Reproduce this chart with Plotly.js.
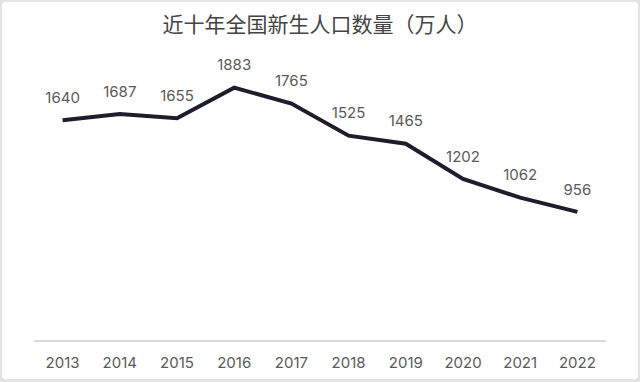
<!DOCTYPE html>
<html>
<head>
<meta charset="utf-8">
<script src="https://cdn.plot.ly/plotly-3.0.1.min.js"></script>
<style>
  html, body { margin: 0; padding: 0; background: #e4e4e4; width: 640px; height: 382px; overflow: hidden; }
  #frame { position: absolute; left: 2px; top: 2px; width: 636px; height: 377px; background: #fff; border-radius: 4px; overflow: hidden; }
  #chart { width: 636px; height: 377px; }
</style>
</head>
<body>
<div id="frame"><div id="chart"></div></div>
<script>
const years = ['2013','2014','2015','2016','2017','2018','2019','2020','2021','2022'];
const births = [1640, 1687, 1655, 1883, 1765, 1525, 1465, 1202, 1062, 956];
const chartTitle = '近十年全国新生人口数量（万人）';

const labelFont = { family: 'Inter, "Noto Sans", sans-serif', size: 15, color: '#5a5a5a' };

const lineTrace = {
  type: 'scatter',
  mode: 'lines',
  x: years,
  y: births,
  line: { color: '#1e1d2c', width: 4 },
  cliponaxis: false,
  hoverinfo: 'skip'
};

const labelTrace = {
  type: 'scatter',
  mode: 'markers+text',
  x: years,
  y: births,
  text: births.map(String),
  textposition: 'top center',
  textfont: labelFont,
  marker: { size: 20, color: 'rgba(0,0,0,0)', line: { width: 0 } },
  cliponaxis: false,
  hoverinfo: 'skip'
};

const layout = {
  width: 636,
  height: 377,
  margin: { l: 32, r: 32, t: 70, b: 39 },
  paper_bgcolor: '#ffffff',
  plot_bgcolor: '#ffffff',
  showlegend: false,
  title: {
    text: chartTitle,
    x: 0.5, xref: 'paper', xanchor: 'center',
    y: 0.939, yref: 'container', yanchor: 'middle',
    font: { family: '"Noto Sans CJK SC", sans-serif', size: 21, color: '#444444' }
  },
  xaxis: {
    type: 'category',
    range: [-0.5, 9.5],
    showgrid: false,
    zeroline: false,
    showline: true,
    linecolor: '#d9d9d9',
    linewidth: 2,
    ticks: 'outside',
    ticklen: 8,
    tickcolor: 'rgba(0,0,0,0)',
    tickfont: labelFont
  },
  yaxis: {
    range: [0, 2000],
    visible: false,
    showgrid: false,
    zeroline: false
  }
};

Plotly.newPlot('chart', [lineTrace, labelTrace], layout, { displayModeBar: false, staticPlot: true });
</script>
</body>
</html>
